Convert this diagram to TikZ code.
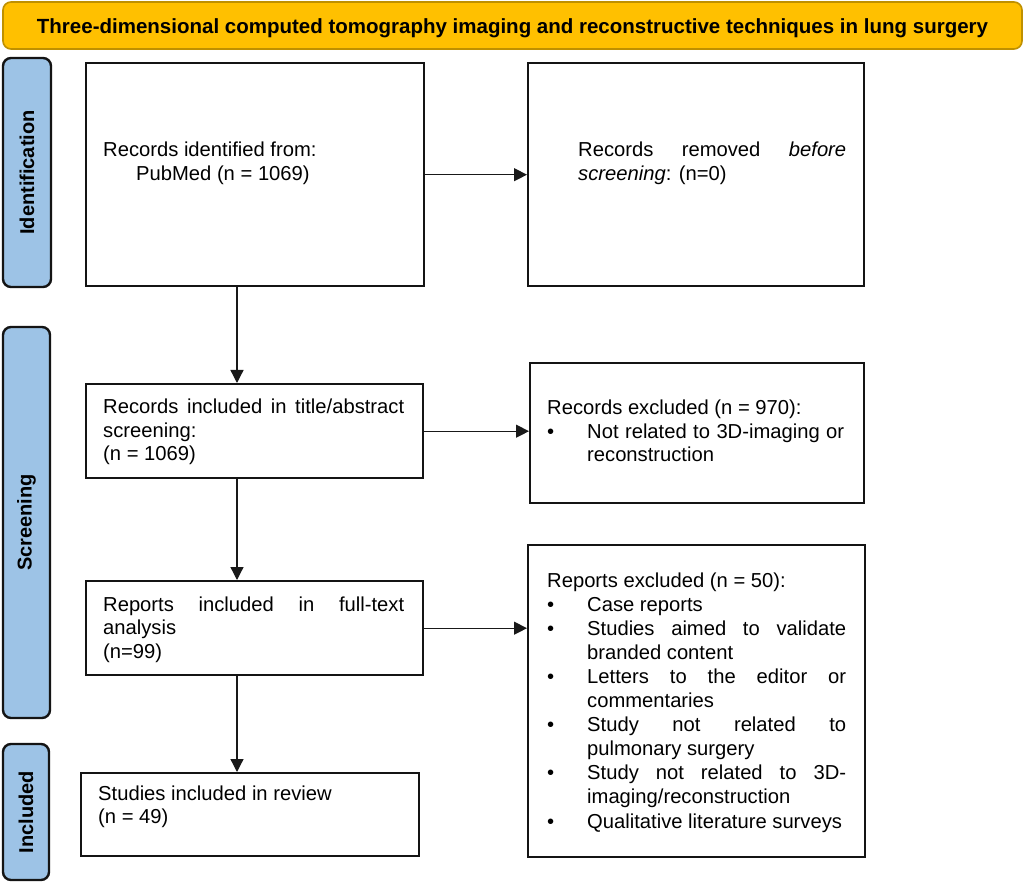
\documentclass[tikz,border=0pt]{standalone}
\usepackage{fontspec}
\setmainfont{Liberation Sans}
\usetikzlibrary{arrows.meta}
\definecolor{gold}{HTML}{FFC000}
\definecolor{golddark}{HTML}{BF9000}
\definecolor{lblue}{HTML}{9DC3E6}
\definecolor{edge}{HTML}{141414}
\newcommand\myitem{\par\hangindent=40pt\hangafter=1\noindent\makebox[40pt][l]{\textbullet}}
\newcommand\boxtext[3]{\parbox[t]{#1}{\fontsize{20.2}{#2}\selectfont\tolerance=10000\hbadness=10000 #3}}
\begin{document}
\begin{tikzpicture}[x=1pt,y=-1pt,
  box/.style={draw=edge, line width=2.4pt, fill=white, inner sep=0pt, anchor=north west},
  lab/.style={draw=edge, line width=2.4pt, fill=lblue, rounded corners=8pt, rotate=90, inner sep=0pt, font=\bfseries\fontsize{20}{24}\selectfont},
  txt/.style={anchor=base west, inner sep=0pt},
  arr/.style={draw=black!90, line width=1.3pt, -{Triangle[width=13pt,length=13pt]}}
]
\useasboundingbox (0,0) rectangle (1026,882);
\fill[white] (0,0) rectangle (1026,882);

% title
\node[draw=golddark, line width=1.6pt, fill=gold, rounded corners=8pt, minimum width=1019pt, minimum height=47pt, inner sep=0pt, text height=18pt, text depth=2.4pt, font=\bfseries\fontsize{20.5}{24}\selectfont] (title) at (512.5,25.5) {Three-dimensional computed tomography imaging and reconstructive techniques in lung surgery};

% side labels
\node[lab, minimum width=229pt, minimum height=48pt] (lid) at (27,172.5) {Identification};
\node[lab, minimum width=391pt, minimum height=47pt] (lscr) at (26.5,522.5) {Screening};
\node[lab, minimum width=136pt, minimum height=46pt] (linc) at (26,812) {Included};

% boxes
\node[box, minimum width=338pt, minimum height=223pt] (b1) at (85,62) {};
\node[box, minimum width=336pt, minimum height=223pt] (rm) at (527,62) {};
\node[box, minimum width=337pt, minimum height=94pt] (ri) at (85,383) {};
\node[box, minimum width=334pt, minimum height=140pt] (re) at (529,362) {};
\node[box, minimum width=337pt, minimum height=94pt] (rpi) at (85,580) {};
\node[box, minimum width=337pt, minimum height=312pt] (rpe) at (527,544) {};
\node[box, minimum width=338pt, minimum height=83pt] (st) at (80,772) {};

% texts
\node[txt] (t1) at (103,157) {\boxtext{300pt}{23.7}{Records identified from:\par\hspace*{33pt}PubMed (n = 1069)}};
\node[txt] (t2) at (578,157) {\boxtext{268pt}{23.7}{Records removed \textit{before}\linebreak \textit{screening}: (n=0)}};
\node[txt] (t3) at (103,414) {\boxtext{301pt}{23.5}{Records included in title/abstract\linebreak screening:\par (n = 1069)}};
\node[txt] (t4) at (547,415) {\boxtext{297pt}{23.5}{Records excluded (n = 970):\myitem Not related to 3D-imaging or\linebreak reconstruction}};
\node[txt] (t5) at (103,611) {\boxtext{301pt}{23.5}{Reports included in full-text\linebreak analysis\par (n=99)}};
\node[txt] (t6) at (547,587) {\boxtext{299pt}{24.1}{Reports excluded (n = 50):%
\myitem Case reports%
\myitem Studies aimed to validate\linebreak branded content%
\myitem Letters to the editor or\linebreak commentaries%
\myitem Study not related to\linebreak pulmonary surgery%
\myitem Study not related to 3D-\linebreak imaging/reconstruction%
\myitem Qualitative literature surveys}};
\node[txt] (t7) at (98,800) {\boxtext{300pt}{23.5}{Studies included in review\par (n = 49)}};

% connectors
\coordinate (cx) at (237,0);
\draw[arr] (b1.east) -- (rm.west);
\draw[arr] (ri.east) -- (ri.east -| re.west);
\draw[arr] (rpi.east) -- (rpi.east -| rpe.west);
\draw[arr] (b1.south -| cx) -- (ri.north -| cx);
\draw[arr] (ri.south -| cx) -- (rpi.north -| cx);
\draw[arr] (rpi.south -| cx) -- (st.north -| cx);
\end{tikzpicture}
\end{document}
